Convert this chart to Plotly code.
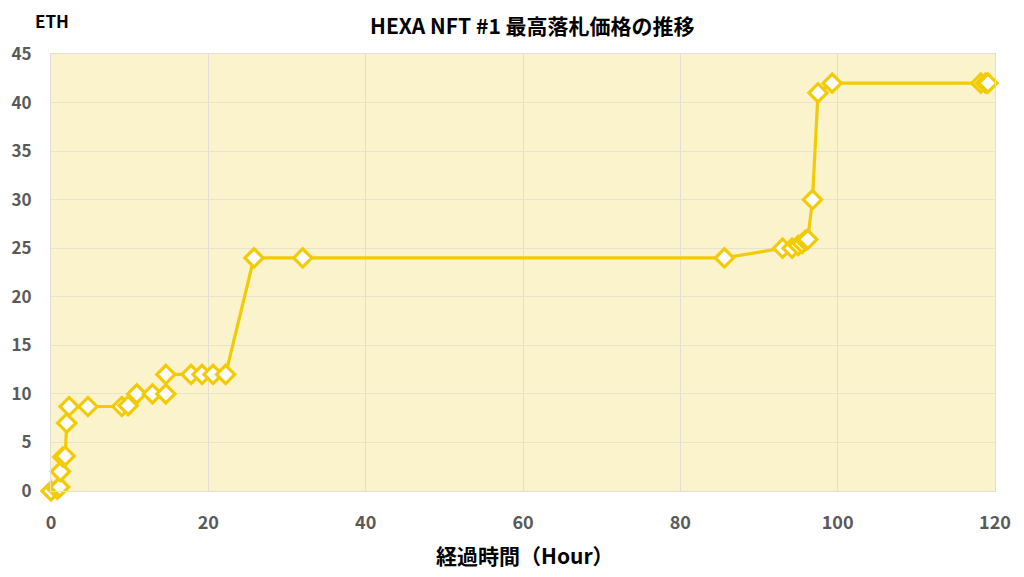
import plotly.graph_objects as go

hours = [0.0, 0.8, 1.1, 1.2, 1.5, 1.8, 2.0, 2.3, 4.7, 9.0, 9.8, 10.9, 12.9, 14.6, 14.6,
         17.8, 19.2, 20.6, 22.2, 25.8, 32.0, 85.6, 93.0, 94.2, 95.0, 95.5, 95.9, 96.2,
         96.8, 97.5, 99.3, 118.2, 118.8, 119.1]
eth = [0.0, 0.2, 0.4, 2.0, 3.5, 3.6, 7.0, 8.7, 8.7, 8.7, 8.8, 10.0, 10.0, 10.0, 12.0,
       12.0, 12.0, 12.0, 12.0, 24.0, 24.0, 24.0, 25.0, 25.0, 25.3, 25.5, 25.8, 25.9,
       30.0, 41.0, 42.0, 42.0, 42.0, 42.0]

x_ticks = [0, 20, 40, 60, 80, 100, 120]
y_ticks = [0, 5, 10, 15, 20, 25, 30, 35, 40, 45]

color = "#F2CB05"
font = "Noto Sans CJK JP"

# page offset of 8px (browser body margin)
OFF = 8
W, H = 1024 - 2 * OFF, 577 - 2 * OFF
L, R, T, B = 51 - OFF, W - (995 - OFF), 54 - OFF, H - (491 - OFF)
PW = W - L - R
PH = H - T - B


def px(x):
    return (x - OFF - L) / PW


def py(y):
    return 1 - (y - OFF - T) / PH


fig = go.Figure()
fig.add_trace(go.Scatter(
    x=hours, y=eth, mode="lines+markers",
    line=dict(color=color, width=3.2),
    marker=dict(symbol="diamond", size=14, color="white",
                line=dict(color=color, width=3.2)),
    showlegend=False, cliponaxis=False,
))

fig.update_layout(
    width=W, height=H,
    margin=dict(l=L, r=R, t=T, b=B),
    paper_bgcolor="white",
    plot_bgcolor="#FBF3CC",
    font=dict(family=font, color="#595959"),
    annotations=[
        dict(text="<b>HEXA NFT #1 最高落札価格の推移</b>", x=px(532), y=py(25),
             xref="paper", yref="paper", showarrow=False,
             font=dict(size=21, color="black", family=font),
             xanchor="center", yanchor="middle"),
        dict(text="<b>ETH</b>", x=px(52), y=py(21), xref="paper", yref="paper",
             showarrow=False, font=dict(size=17, color="black", family=font),
             xanchor="center", yanchor="middle"),
        dict(text="<b>経過時間（Hour）</b>", x=px(525), y=py(555), xref="paper",
             yref="paper", showarrow=False,
             font=dict(size=21, color="black", family=font),
             xanchor="center", yanchor="middle"),
    ],
    xaxis=dict(range=[0, 120], tickvals=x_ticks,
               ticktext=[f"<b>{v}</b>" for v in x_ticks],
               showgrid=True, gridcolor="#E2DED6", gridwidth=1,
               zeroline=False, showline=True, linecolor="#E2DED6",
               mirror=True, ticks="", ticklabelstandoff=15, automargin=False,
               tickfont=dict(size=18, color="#595959")),
    yaxis=dict(range=[0, 45], tickvals=y_ticks,
               ticktext=[f"<b>{v}</b>" for v in y_ticks],
               showgrid=True, gridcolor="#E8E2CF", gridwidth=1,
               zeroline=False, showline=True, linecolor="#E2DED6",
               mirror=True, ticks="", ticklabelstandoff=15, automargin=False,
               tickfont=dict(size=17, color="#595959")),
)

fig.write_html("out.html")
